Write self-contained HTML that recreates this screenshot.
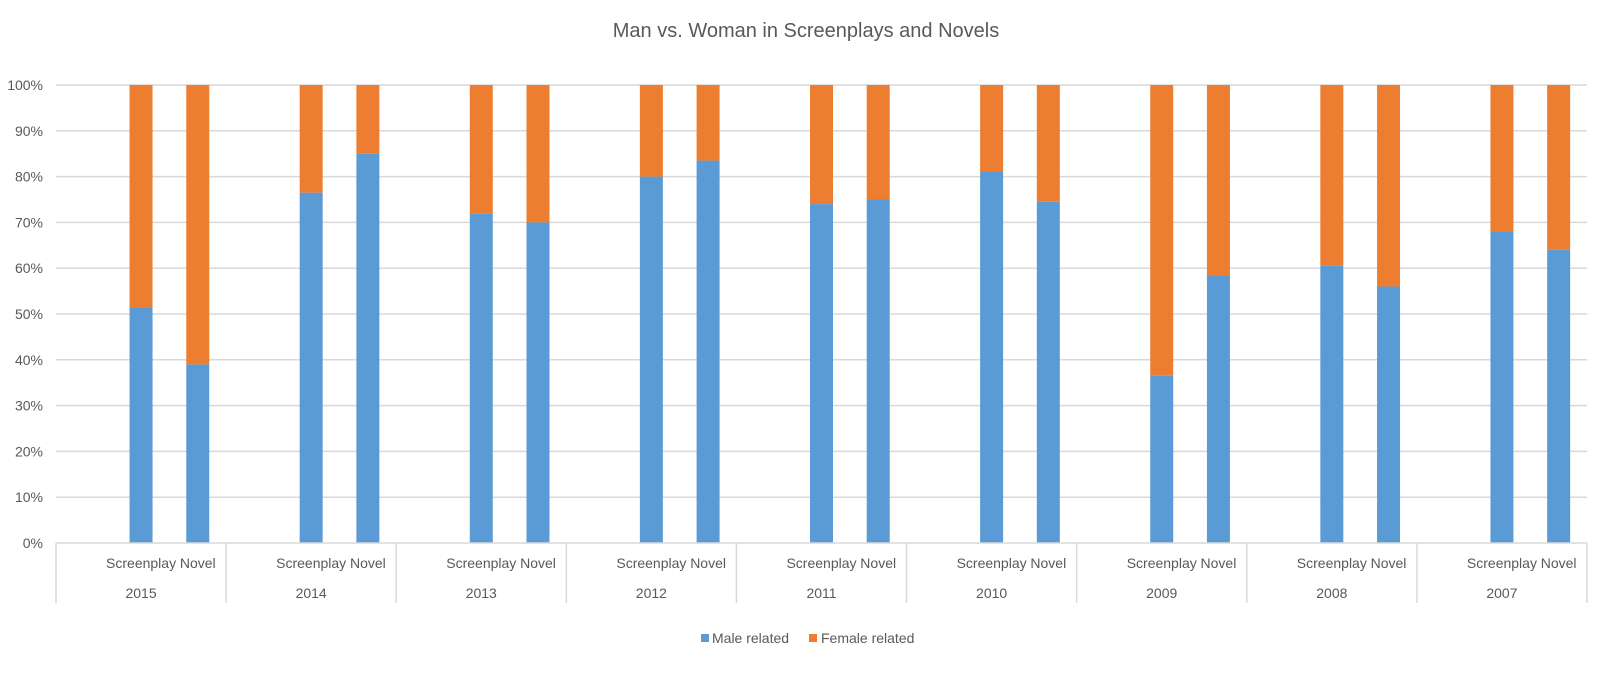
<!DOCTYPE html>
<html><head><meta charset="utf-8"><style>
body{margin:0;background:#fff;}
svg{display:block;font-family:"Liberation Sans",sans-serif;}
</style></head><body>
<svg id="chart" width="1600" height="680">
<text x="806" y="37" text-anchor="middle" font-size="20" fill="#595959">Man vs. Woman in Screenplays and Novels</text>
<g id="grid"></g><g id="bars"></g><g id="axes"></g>
<g>
<rect x="701" y="634" width="8" height="8" fill="#5b9bd5"/>
<text x="712" y="643" font-size="14" fill="#595959">Male related</text>
<rect x="809" y="634" width="8" height="8" fill="#ed7d31"/>
<text x="821" y="643" font-size="14" fill="#595959">Female related</text>
</g>
</svg>
<script>
const years = ["2015","2014","2013","2012","2011","2010","2009","2008","2007"];
const subCategories = ["Screenplay","Novel"];
const screenplayMale = [51.5,76.5,72,80,74,81,36.5,60.5,68];
const novelMale = [39,85,70,83.5,75,74.5,58.5,56,64];
const yTicks = [0,10,20,30,40,50,60,70,80,90,100];

const NS="http://www.w3.org/2000/svg";
const L=56,R=1587,T=85,B=543;
const gw=(R-L)/years.length, sw=gw/3, bw=23;
const y=v=>B-(v/100)*(B-T);
function mk(tag,attrs,parent){const e=document.createElementNS(NS,tag);for(const k in attrs)e.setAttribute(k,attrs[k]);parent.appendChild(e);return e;}
const grid=document.getElementById('grid'),bars=document.getElementById('bars'),axes=document.getElementById('axes');
yTicks.forEach(t=>{
  if(t>0){const l=mk('line',{x1:L,x2:R,y1:y(t),y2:y(t),stroke:'#d9d9d9','stroke-width':1.5},grid);
  
  }
  const tx=mk('text',{x:43,y:y(t)+5,'text-anchor':'end','font-size':14,fill:'#595959'},axes);
  tx.textContent=t+'%';
  
  
});
const ax=mk('line',{x1:L,x2:R,y1:B,y2:B,stroke:'#d9d9d9','stroke-width':1.5},axes);


for(let i=0;i<=years.length;i++){
  const x=L+i*gw;
  const l=mk('line',{x1:x,x2:x,y1:B,y2:603,stroke:'#d9d9d9','stroke-width':1.5},axes);
  
  
}
years.forEach((yr,i)=>{
  const g0=L+i*gw;
  [screenplayMale[i],novelMale[i]].forEach((v,j)=>{
    const cx=g0+sw*(j+1)+sw/2;
    const m=mk('rect',{x:cx-bw/2,y:y(v),width:bw,height:B-y(v),fill:'#5b9bd5'},bars);
    
    
    const f=mk('rect',{x:cx-bw/2,y:y(100),width:bw,height:y(v)-y(100),fill:'#ed7d31'},bars);
    
    
    const t=mk('text',{x:cx,y:568,'text-anchor':'middle','font-size':14,fill:'#595959'},axes);
    t.textContent=subCategories[j];
    
    
  });
  const t=mk('text',{x:g0+sw*1.5,y:598,'text-anchor':'middle','font-size':14,fill:'#595959'},axes);
  t.textContent=yr;
  
  
});
</script>
</body></html>
